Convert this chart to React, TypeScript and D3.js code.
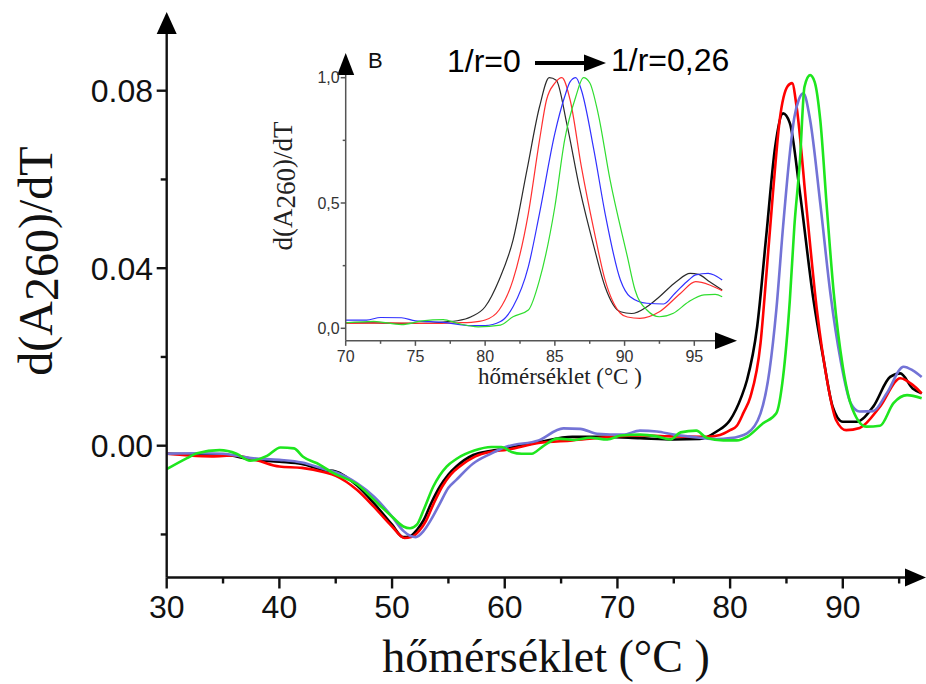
import * as d3 from "d3";
import React from "react";

// main chart: d(A260)/dT vs temperature, [T, value]
const mainBlack: [number, number][] = [
  [30, -0.0018], [32, -0.0019], [35, -0.002], [37.5, -0.0031], [40, -0.0036], [42, -0.0041],
  [44, -0.0055], [45, -0.0058], [46.9, -0.009], [48.4, -0.013], [50, -0.0178], [51, -0.0206],
  [51.6, -0.0204], [52.2, -0.019], [52.8, -0.0168], [53.5, -0.0128], [54.25, -0.0092], [55, -0.0065],
  [55.7, -0.0047], [57.2, -0.0021], [58.7, -0.0012], [60.2, -0.0006], [63, 0.0008], [66, 0.002],
  [69, 0.002], [72, 0.0017], [75, 0.0014], [77.3, 0.0015], [78.8, 0.0032], [80, 0.0058],
  [81, 0.011], [81.5, 0.0148], [82.4, 0.0268], [83.2, 0.0471], [84, 0.0674], [84.7, 0.0749],
  [85.3, 0.0727], [86.2, 0.0569], [87.4, 0.0328], [88.3, 0.0193], [89.1, 0.0088], [90, 0.0054],
  [91.2, 0.0054], [92.7, 0.0088], [94.2, 0.0155], [95.1, 0.0163], [96.2, 0.0129], [97, 0.0118],
];
const mainRed: [number, number][] = [
  [30, -0.0018], [32, -0.0022], [34, -0.0024], [36, -0.0022], [38, -0.0033], [40, -0.0047],
  [42, -0.005], [44, -0.006], [45, -0.0068], [46.9, -0.01], [48.4, -0.0138], [50, -0.0182],
  [51.1, -0.0208], [51.7, -0.0206], [52.4, -0.0192], [53, -0.017], [53.7, -0.013], [54.45, -0.0092],
  [55.2, -0.0065], [56, -0.0047], [57.4, -0.0024], [58.7, -0.0014], [60.2, -0.0009], [63, 0.0006],
  [66, 0.0012], [69, 0.0019], [72, 0.0023], [75, 0.0021], [78, 0.002], [79.1, 0.0024],
  [80, 0.0035], [80.6, 0.0045], [81.2, 0.0075], [81.8, 0.011], [82.7, 0.0231], [83.2, 0.038],
  [83.8, 0.0569], [84.4, 0.0734], [85.1, 0.081], [85.5, 0.0817], [85.9, 0.0764], [86.8, 0.0531],
  [87.7, 0.0306], [88.6, 0.0148], [89.4, 0.0058], [90.3, 0.0035], [91.5, 0.004], [93.3, 0.0088],
  [95.1, 0.0152], [96.2, 0.0137], [97, 0.0118],
];
const mainBlue: [number, number][] = [
  [30, -0.0018], [33, -0.0017], [35, -0.0018], [37.5, -0.0028], [40, -0.0032], [42, -0.0038],
  [44, -0.0053], [45, -0.006], [46.9, -0.0085], [48.4, -0.0115], [50, -0.016], [51, -0.0192],
  [51.6, -0.0203], [52.1, -0.0206], [52.8, -0.0192], [53.5, -0.0165], [54.25, -0.013], [55, -0.0095],
  [55.7, -0.0077], [57.2, -0.004], [58.7, -0.0019], [60.2, -0.0002], [63, 0.0012], [65.2, 0.0039],
  [66.7, 0.0038], [68.2, 0.0027], [70.5, 0.0025], [72, 0.0034], [73.5, 0.0032], [75, 0.0025],
  [77.3, 0.0018], [78.8, 0.0015], [80, 0.0017], [81.5, 0.0028], [82.7, 0.0073], [83.5, 0.017],
  [84.1, 0.0306], [84.7, 0.0494], [85.3, 0.0659], [85.7, 0.074], [86.1, 0.078], [86.5, 0.0794],
  [87.1, 0.0734], [88, 0.0546], [88.9, 0.0343], [89.8, 0.0193], [90.7, 0.0096], [91.5, 0.0077],
  [92.7, 0.0078], [93.9, 0.0118], [95.4, 0.0178], [96.2, 0.017], [97, 0.0155],
];
const mainGreen: [number, number][] = [
  [30, -0.0053], [31.8, -0.0028], [32.7, -0.0017], [34.7, -0.001], [36.2, -0.0018], [37.4, -0.0034],
  [38.9, -0.0023], [40.1, -0.0004], [41.3, -0.0006], [42.1, -0.0025], [43.6, -0.0043], [44.8, -0.0062],
  [46.9, -0.0087], [48.4, -0.0122], [50, -0.016], [51, -0.0182], [51.6, -0.0186], [52.2, -0.0178],
  [52.8, -0.0145], [53.66, -0.0092], [54.84, -0.0047], [55.7, -0.003], [57.3, -0.0011], [58.8, -0.0003],
  [59.7, -0.0003], [60.6, -0.0014], [61.5, -0.0018], [62.4, -0.0018], [63.3, -0.0003], [64.7, 0.0016],
  [66.2, 0.0013], [67.6, 0.0018], [69.1, 0.0014], [70.3, 0.0023], [72, 0.0025], [73.5, 0.0021],
  [74.7, 0.0014], [75.6, 0.003], [77, 0.0034], [77.9, 0.0018], [79.4, 0.0012], [80.6, 0.0012],
  [81.5, 0.002], [82.9, 0.005], [84.1, 0.0073], [84.7, 0.0155], [85.3, 0.0328], [85.7, 0.0494],
  [86.2, 0.0644], [86.6, 0.0809], [87.1, 0.0835], [87.5, 0.082], [88, 0.0734], [88.6, 0.0531],
  [89.2, 0.0343], [90, 0.0178], [90.9, 0.008], [92.1, 0.0043], [93.3, 0.0045], [94.5, 0.0096],
  [95.7, 0.0114], [97, 0.0107],
];

// inset (B): normalised curves
const insetBlack: [number, number][] = [
  [70, 0.022], [72, 0.022], [74, 0.02], [76, 0.02], [77, 0.025], [78, 0.03], [79, 0.046], [80, 0.086],
  [81, 0.193], [82, 0.352], [83, 0.632], [83.9, 0.884], [84.6, 1.0], [85.1, 0.99], [85.85, 0.818],
  [86.8, 0.552], [87.8, 0.326], [88.6, 0.166], [89.7, 0.066], [90.5, 0.059], [91.6, 0.086],
  [92.5, 0.126], [93.7, 0.186], [94.7, 0.219], [95.3, 0.215], [96.1, 0.186], [97, 0.153],
];
const insetRed: [number, number][] = [
  [70, 0.02], [73, 0.022], [76, 0.02], [78, 0.022], [79, 0.024], [80, 0.033], [81, 0.073], [82, 0.193],
  [83.1, 0.459], [83.9, 0.751], [84.4, 0.911], [85, 0.978], [85.5, 1.0], [86.1, 0.91], [86.9, 0.645],
  [87.8, 0.392], [88.6, 0.193], [89.7, 0.06], [90.2, 0.045], [91.1, 0.04], [92.5, 0.066], [94, 0.139],
  [95.1, 0.186], [96.1, 0.173], [97, 0.15],
];
const insetBlue: [number, number][] = [
  [70, 0.033], [71.5, 0.033], [72.5, 0.043], [74, 0.042], [75, 0.03], [77, 0.024], [79, 0.011],
  [80, 0.011], [81.1, 0.027], [82, 0.086], [83.1, 0.246], [83.9, 0.459], [85, 0.778], [85.7, 0.924],
  [86.1, 0.984], [86.5, 1.0], [86.9, 0.951], [87.8, 0.711], [88.6, 0.459], [89.7, 0.193], [90.4, 0.126],
  [91.6, 0.1], [92.8, 0.097], [93.6, 0.139], [94.6, 0.193], [95.1, 0.213], [96, 0.219], [97, 0.193],
];
const insetGreen: [number, number][] = [
  [70, 0.022], [72, 0.028], [74, 0.015], [75.5, 0.03], [77, 0.035], [78, 0.02], [79.5, 0.006],
  [81.1, 0.013], [82, 0.046], [83.1, 0.073], [83.9, 0.193], [85, 0.485], [85.7, 0.751], [86.5, 0.924],
  [87.05, 1.0], [87.5, 0.98], [88.1, 0.858], [88.96, 0.592], [90.2, 0.286], [90.75, 0.153],
  [91.6, 0.073], [92.5, 0.046], [93.5, 0.06], [94.6, 0.106], [95.7, 0.133], [96.5, 0.135], [97, 0.126],
];

const mainXTicks = [30, 40, 50, 60, 70, 80, 90];
const mainXMinor = [35, 45, 55, 65, 75, 85, 95];
const mainYTicks = [0, 0.04, 0.08];
const mainYMinor = [-0.02, 0.02, 0.06];
const insetXTicks = [70, 75, 80, 85, 90, 95];
const insetXMinor = [72.5, 77.5, 82.5, 87.5, 92.5];
const insetYTicks = [0, 0.5, 1];
const insetYMinor = [0.25, 0.75];

const mainColors = ["#000000", "#ff0000", "#7373d6", "#1ee61e"];
const insetColors = ["#2a2a2a", "#ff3030", "#3030ff", "#30dd30"];

const SANS = "'Liberation Sans', Arial, sans-serif";
const SERIF = "'Liberation Serif', 'Times New Roman', serif";

const App = () => {
  // main scales
  const xMain = d3.scaleLinear().domain([30, 90]).range([166.7, 842.8]);
  const yMain = d3.scaleLinear().domain([0, 0.08]).range([445.7, 90.7]);
  const x0 = xMain(30);
  const yAxisY = yMain(-0.0297);
  const mainLine = d3
    .line<[number, number]>()
    .x((d) => xMain(d[0]))
    .y((d) => yMain(d[1]))
    .curve(d3.curveMonotoneX);

  // inset scales
  const xIn = d3.scaleLinear().domain([70, 95]).range([345.7, 694.3]);
  const yIn = d3.scaleLinear().domain([0, 1]).range([328.3, 77.7]);
  const ix0 = xIn(70);
  const iAxisY = yIn(-0.05);
  const inLine = d3
    .line<[number, number]>()
    .x((d) => xIn(d[0]))
    .y((d) => yIn(d[1]))
    .curve(d3.curveMonotoneX);

  const fmtMain = d3.format(".2f");
  const fmtIn = (v: number) => d3.format(".1f")(v).replace(".", ",");

  const mainSeries = [mainBlack, mainRed, mainBlue, mainGreen];
  const insetSeries = [insetBlack, insetRed, insetBlue, insetGreen];

  return (
    <svg
      width={926}
      height={684}
      style={{ position: "absolute", left: 0, top: 0, background: "#fff" }}
    >
      {/* main curves */}
      <g fill="none" strokeWidth={2.6} strokeLinejoin="round">
        {mainSeries.map((s, i) => (
          <path key={i} d={mainLine(s) || ""} stroke={mainColors[i]} />
        ))}
      </g>

      {/* main axes */}
      <g stroke="#111" strokeWidth={2.4}>
        <line x1={x0} x2={x0} y1={yAxisY} y2={28} />
        <line x1={x0} x2={910} y1={yAxisY} y2={yAxisY} />
        {mainXTicks.map((t) => (
          <line key={t} x1={xMain(t)} x2={xMain(t)} y1={yAxisY} y2={yAxisY + 11} />
        ))}
        {mainXMinor.map((t) => (
          <line key={t} x1={xMain(t)} x2={xMain(t)} y1={yAxisY} y2={yAxisY + 6} />
        ))}
        {mainYTicks.map((t) => (
          <line key={t} x1={x0 - 10} x2={x0} y1={yMain(t)} y2={yMain(t)} />
        ))}
        {mainYMinor.map((t) => (
          <line key={t} x1={x0 - 6} x2={x0} y1={yMain(t)} y2={yMain(t)} />
        ))}
      </g>
      <polygon points={`${x0},12 ${x0 - 10},34 ${x0 + 10},34`} fill="#000" />
      <polygon points={`926,${yAxisY} 905,${yAxisY - 9} 905,${yAxisY + 9}`} fill="#000" />

      <g fontFamily={SANS} fontSize={32} fill="#111">
        {mainXTicks.map((t) => (
          <text key={t} x={xMain(t)} y={618} textAnchor="middle">
            {t}
          </text>
        ))}
        {mainYTicks.map((t) => (
          <text key={t} x={153} y={yMain(t)} dy="0.36em" textAnchor="end">
            {fmtMain(t)}
          </text>
        ))}
      </g>

      <text x={546} y={672} textAnchor="middle" fontFamily={SERIF} fontSize={46} fill="#111">
        hőmérséklet (°C )
      </text>
      <text
        transform="translate(52,261) rotate(-90)"
        textAnchor="middle"
        fontFamily={SERIF}
        fontSize={48}
        fill="#111"
      >
        d(A<tspan dy={6}>260</tspan>
        <tspan dy={-6}>)/dT</tspan>
      </text>

      {/* inset */}
      <g fill="none" strokeWidth={1.2} strokeLinejoin="round">
        {insetSeries.map((s, i) => (
          <path key={i} d={inLine(s) || ""} stroke={insetColors[i]} />
        ))}
      </g>
      <g stroke="#555" strokeWidth={1.5}>
        <line x1={ix0} x2={ix0} y1={iAxisY} y2={70} />
        <line x1={ix0} x2={718} y1={iAxisY} y2={iAxisY} />
        {insetXTicks.map((t) => (
          <line key={t} x1={xIn(t)} x2={xIn(t)} y1={iAxisY} y2={iAxisY + 5} />
        ))}
        {insetXMinor.map((t) => (
          <line key={t} x1={xIn(t)} x2={xIn(t)} y1={iAxisY} y2={iAxisY + 3} />
        ))}
        {insetYTicks.map((t) => (
          <line key={t} x1={ix0 - 5} x2={ix0} y1={yIn(t)} y2={yIn(t)} />
        ))}
        {insetYMinor.map((t) => (
          <line key={t} x1={ix0 - 3} x2={ix0} y1={yIn(t)} y2={yIn(t)} />
        ))}
      </g>
      <polygon points={`${ix0},53 ${ix0 - 8.5},75 ${ix0 + 8.5},75`} fill="#000" />
      <polygon points={`737,${iAxisY} 715,${iAxisY - 8.5} 715,${iAxisY + 8.5}`} fill="#000" />

      <g fontFamily={SANS} fontSize={16} fill="#333">
        {insetXTicks.map((t) => (
          <text key={t} x={xIn(t)} y={362} textAnchor="middle">
            {t}
          </text>
        ))}
        {insetYTicks.map((t) => (
          <text key={t} x={ix0 - 6} y={yIn(t)} dy="0.36em" textAnchor="end">
            {fmtIn(t)}
          </text>
        ))}
      </g>
      <text x={560} y={384} textAnchor="middle" fontFamily={SERIF} fontSize={23} fill="#222">
        hőmérséklet (°C )
      </text>
      <text
        transform="translate(292,186) rotate(-90)"
        textAnchor="middle"
        fontFamily={SERIF}
        fontSize={27}
        fill="#222"
      >
        d(A<tspan dy={3}>260</tspan>
        <tspan dy={-3}>)/dT</tspan>
      </text>

      <text x={368} y={68} fontFamily={SANS} fontSize={22} fill="#111">
        B
      </text>
      <g fontFamily={SANS} fontSize={32} fill="#000">
        <text x={447} y={72}>1/r=0</text>
        <text x={611} y={71}>1/r=0,26</text>
      </g>
      <line x1={535} x2={588} y1={63} y2={63} stroke="#000" strokeWidth={4} />
      <polygon points="584,54.5 606,63 584,71.5" fill="#000" />
    </svg>
  );
};

export default App;
